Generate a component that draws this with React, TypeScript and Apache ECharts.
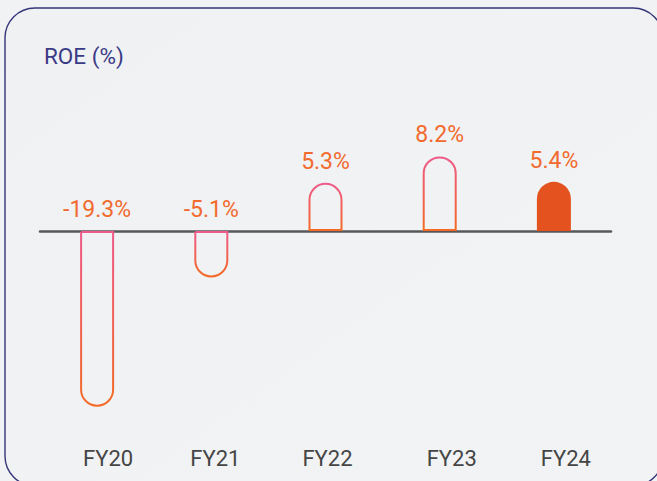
import React, { useEffect, useRef } from "react";
import * as echarts from "echarts";

const categories = ["FY20", "FY21", "FY22", "FY23", "FY24"];
const roeValues = [-19.3, -5.1, 5.3, 8.2, 5.4];
const labelTexts = ["-19.3%", "-5.1%", "5.3%", "8.2%", "5.4%"];
const labelShifts = [11, 4, 2, 12, 12];
const title = "ROE (%)";

export default function App() {
  const ref = useRef<HTMLDivElement>(null);
  useEffect(() => {
    if (!ref.current) return;
    const chart = echarts.init(ref.current, undefined, { renderer: "svg" });
    const strokeGrad = new echarts.graphic.LinearGradient(0, 0, 0, 1, [
      { offset: 0, color: "#ee5a88" },
      { offset: 1, color: "#f46a26" },
    ]);
    const data = roeValues.map((v, i) => {
      const last = i === roeValues.length - 1;
      return {
        value: v,
        itemStyle: {
          color: last ? "#e4531f" : "rgba(0,0,0,0)",
          borderColor: last ? "#e4531f" : strokeGrad,
          borderWidth: last ? 0 : 2,
          borderRadius: v >= 0 ? [17, 17, 0, 0] : [0, 0, 17, 17],
        },
        label: {
          show: true,
          position: "top",
          distance: 10,
          formatter: labelTexts[i],
        },
      };
    });
    chart.setOption({
      animation: false,
      backgroundColor: "#f0f2f4",
      textStyle: { fontFamily: "Roboto" },
      graphic: [
        {
          type: "rect",
          shape: { x: 5, y: 8, width: 658, height: 478, r: 30 },
          style: {
            fill: new echarts.graphic.LinearGradient(0, 0, 1, 1, [
              { offset: 0, color: "#eff1f3" },
              { offset: 1, color: "#f1f3f5" },
            ]),
            stroke: "#35357a",
            lineWidth: 1.4,
          },
          z: -10,
          silent: true,
        },
        {
          type: "text",
          left: 44,
          top: 44,
          style: {
            text: title,
            fill: "#3b3a87",
            font: "22.5px Roboto",
          },
        },
      ],
      grid: { left: 40, right: 46, top: 140, bottom: 68 },
      xAxis: [
        {
          type: "category",
          data: categories,
          axisLine: { onZero: true, lineStyle: { color: "#58585a", width: 2.5 } },
          axisTick: { show: false },
          axisLabel: { show: false },
        },
        {
          type: "category",
          position: "bottom",
          data: categories.map((c, i) => ({
            value: c,
            textStyle: { padding: [0, 0, 0, labelShifts[i] * 2] },
          })),
          axisLine: { show: false, onZero: false },
          axisTick: { show: false },
          axisLabel: { color: "#454545", fontSize: 22, margin: 34, fontFamily: "Roboto" },
        },
      ],
      yAxis: {
        type: "value",
        min: -20,
        max: 10,
        show: false,
        splitLine: { show: false },
      },
      series: [
        {
          type: "bar",
          xAxisIndex: 0,
          barWidth: 34,
          data,
          label: { color: "#f26a2e", fontSize: 23, fontFamily: "Roboto" },
        },
      ],
    });
    return () => chart.dispose();
  }, []);
  return (
    <div
      ref={ref}
      style={{ position: "fixed", left: 0, top: 0, width: 657, height: 481 }}
    />
  );
}
